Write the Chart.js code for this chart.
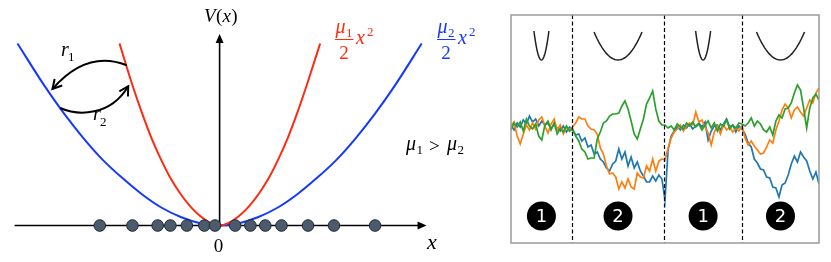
<!DOCTYPE html>
<html>
<head>
<meta charset="utf-8">
<script src="https://cdn.jsdelivr.net/npm/chart.js@4.4.0/dist/chart.umd.min.js"></script>
<style>
  body { margin: 0; background: #fff; }
  #wrap { position: relative; width: 831px; height: 262px; }
  #left { position: absolute; left: 0; top: 0; }
  #right { position: absolute; left: 500px; top: 0; }
</style>
</head>
<body>
<div id="wrap">
  <canvas id="left" width="480" height="262"></canvas>
  <canvas id="right" width="331" height="262"></canvas>
</div>
<script>
// ---- left panel: two potentials V(x) = mu/2 x^2
const redX = [-1.03, -0.9, -0.8, -0.7, -0.6, -0.5, -0.4, -0.3, -0.2, -0.1, 0, 0.1, 0.2, 0.3, 0.4, 0.5, 0.6, 0.7, 0.8, 0.9, 1.035]
const redV = [1.92, 1.49, 1.19, 0.92, 0.69, 0.49, 0.33, 0.2, 0.1, 0.03, 0, 0.03, 0.1, 0.2, 0.33, 0.49, 0.69, 0.92, 1.19, 1.49, 1.92]
const blueX = [-2.08, -1.8, -1.6, -1.4, -1.2, -1.0, -0.8, -0.6, -0.4, -0.2, 0, 0.2, 0.4, 0.6, 0.8, 1.0, 1.2, 1.4, 1.6, 1.8, 2.08]
const blueV = [1.92, 1.47, 1.18, 0.92, 0.69, 0.5, 0.33, 0.19, 0.09, 0.025, 0, 0.025, 0.09, 0.19, 0.33, 0.5, 0.69, 0.92, 1.18, 1.47, 1.92]
const dotX = [-1.233, -0.897, -0.637, -0.507, -0.337, -0.157, -0.047, 0.16, 0.317, 0.47, 0.637, 0.91, 1.177, 1.6]

// ---- right panel: three trajectories, one sample every 4 time steps
const timeStep = 4
const segEdges = [0, 79, 199, 300, 400]
const segLabels = ['1', '2', '1', '2']
const segWide = [false, true, false, true]

const traceBlue = [
  0.3, -0.2, 0.5, 0.1, 0.8, 0.4, 1.2, 0.6, 0.9, 0.2, 0.7, 0.3, 0.5, -0.1, 0.4, 0.0, -0.3, 0.2, -0.4, 0.1,
  -0.2, -0.7, -0.6, -1.3, -1.0, -1.9, -1.7, -2.6, -2.4, -3.1, -3.4, -4.0, -4.3, -3.6, -3.3, -2.1, -3.1, -2.4, -3.8, -2.9, -4.0, -3.4, -4.3, -4.8, -5.4, -5.4, -4.8, -5.3, -4.7, -5.1,
  -7.2, -2.2, -0.8, -0.3, 0.1, -0.2, 0.3, 0.0, 0.4, -0.1, 0.2, 0.5, 0.1, 0.6, -1.2, -0.3, 0.2, 0.3, -0.2, 0.4, 0.9, 0.1, 0.3, -0.4, 0.2, -0.1,
  -0.6, -1.5, -1.9, -3.1, -3.5, -4.1, -4.2, -4.9, -5.0, -5.9, -6.0, -6.9, -5.7, -5.5, -4.7, -3.6, -2.8, -3.4, -2.4, -2.9, -3.3, -4.3, -5.1, -4.4, -5.6
]
const traceOrange = [
  0.2, 0.6, -0.8, -1.6, -0.6, 0.3, -0.2, 0.5, -0.1, 0.8, 1.1, 0.2, -0.5, 0.4, 0.9, -0.2, 0.3, -0.6, 0.1, -0.3,
  0.1, 0.5, 1.1, 0.9, 0.9, 0.2, -0.1, -0.2, -0.6, -2.0, -2.6, -3.8, -4.6, -4.5, -4.9, -6.1, -5.4, -6.0, -5.1, -5.9, -6.1, -4.5, -4.9, -5.0, -3.8, -4.3, -3.1, -4.3, -3.3, -3.1,
  -3.2, -2.0, -1.0, -0.4, -0.1, 0.3, -0.3, 0.2, 0.5, 0.3, 1.6, 0.6, 0.8, 0.1, -0.5, -1.7, -0.4, 0.2, -0.6, 0.3, -0.2, 0.1, -0.4, 0.0, -0.3, 0.2,
  -1.0, -1.7, -1.3, -1.8, -2.2, -2.6, -2.5, -1.9, -1.2, -1.5, -0.2, 0.7, 1.8, 2.4, 2.0, 1.0, 1.8, 2.1, 1.6, 1.2, 2.0, 2.8, 2.5, 3.5, 4.0
]
const traceGreen = [
  -0.2, 0.5, 0.1, 0.6, -0.3, 0.9, 0.2, -0.1, 0.4, -0.8, -1.2, 0.3, 0.7, -0.2, 0.5, -0.6, 0.0, -0.4, 0.2, -0.3,
  -0.1, -0.8, -1.3, -2.1, -2.4, -3.1, -3.0, -3.0, -1.1, -0.4, 0.5, 0.7, 1.2, 1.4, 1.4, 1.5, 2.2, 2.7, 1.9, 0.7, -0.6, -1.1, -0.1, 0.9, 2.4, 3.0, 3.7, 1.9, 0.7, 0.3,
  0.3, 0.0, 0.2, -0.2, 0.4, 0.1, -0.1, 0.5, 0.2, 0.6, 0.1, 0.4, -0.2, 0.3, 0.7, 0.0, 0.5, -0.3, 0.4, 0.2, 0.8, -0.1, 0.3, 0.0, 0.5, 0.4,
  0.2, 0.5, 1.0, 0.2, 0.7, 0.4, -0.2, -0.4, 0.1, -0.7, 0.7, 1.3, 1.0, 1.9, 2.0, 2.5, 3.5, 4.3, 3.8, 2.0, 0.0, 2.0, 3.0, 3.4, 2.8
]

const RED = '#ff2a10'
const BLUE = '#1538ff'
const SERIF = '"Liberation Serif", "DejaVu Serif", serif'

const toXY = (xs, ys) => xs.map((x, i) => ({ x: x, y: ys[i] }))
const toTrace = (ys) => ys.map((y, i) => ({ x: i * timeStep, y: y }))

function arrowHead(ctx, x, y, ang, len, half, filled) {
  ctx.beginPath()
  ctx.moveTo(x - len * Math.cos(ang) + half * Math.sin(ang), y - len * Math.sin(ang) - half * Math.cos(ang))
  ctx.lineTo(x, y)
  ctx.lineTo(x - len * Math.cos(ang) - half * Math.sin(ang), y - len * Math.sin(ang) + half * Math.cos(ang))
  if (filled) { ctx.closePath(); ctx.fill() } else ctx.stroke()
}

// mu with a subscript, returns the x after it
function mu(ctx, x, base, sub) {
  ctx.font = 'italic 20px ' + SERIF
  ctx.fillText('\u03bc', x, base)
  const w = ctx.measureText('\u03bc').width
  ctx.font = '13px ' + SERIF
  ctx.fillText(sub, x + w + 0.5, base + 4)
  return x + w + 0.5 + ctx.measureText(sub).width
}

// draws mu_sub / 2  x^2 with the fraction bar starting at x0
function muFrac(ctx, x0, barY, sub, color) {
  ctx.fillStyle = color
  ctx.strokeStyle = color
  mu(ctx, x0 + 0.5, barY - 6, sub)
  ctx.lineWidth = 1
  ctx.beginPath(); ctx.moveTo(x0, barY + 0.5); ctx.lineTo(x0 + 18.5, barY + 0.5); ctx.stroke()
  ctx.font = '19px ' + SERIF
  ctx.textAlign = 'center'
  ctx.fillText('2', x0 + 9, barY + 20)
  ctx.textAlign = 'left'
  ctx.font = 'italic 20px ' + SERIF
  ctx.fillText('x', x0 + 21, barY + 5)
  ctx.font = '13px ' + SERIF
  ctx.fillText('2', x0 + 32, barY - 3)
}

const leftDecor = {
  id: 'leftDecor',
  beforeDatasetsDraw(chart) {
    const { ctx, scales: { x, y } } = chart
    const y0 = y.getPixelForValue(0)
    const x0 = x.getPixelForValue(0)
    ctx.save()
    ctx.strokeStyle = '#000'
    ctx.fillStyle = '#000'
    ctx.lineWidth = 1.6
    // x axis
    const xa = x.getPixelForValue(-2.11), xb = x.getPixelForValue(2.13)
    ctx.beginPath(); ctx.moveTo(xa, y0); ctx.lineTo(xb - 6, y0); ctx.stroke()
    arrowHead(ctx, xb, y0, 0, 9, 4, true)
    // y axis
    const yt = y.getPixelForValue(2.02)
    ctx.beginPath(); ctx.moveTo(x0, y0); ctx.lineTo(x0, yt + 6); ctx.stroke()
    arrowHead(ctx, x0, yt, -Math.PI / 2, 9, 4, true)
    ctx.restore()
  },
  afterDatasetsDraw(chart) {
    const { ctx, scales: { x, y } } = chart
    ctx.save()
    ctx.fillStyle = '#000'
    ctx.textBaseline = 'alphabetic'
    // V(x)
    let px = 204
    ctx.font = 'italic 19px ' + SERIF; ctx.fillText('V', px, 22); px += ctx.measureText('V').width + 0.5
    ctx.font = '19px ' + SERIF; ctx.fillText('(', px, 22); px += ctx.measureText('(').width
    ctx.font = 'italic 19px ' + SERIF; ctx.fillText('x', px, 22); px += ctx.measureText('x').width + 0.5
    ctx.font = '19px ' + SERIF; ctx.fillText(')', px, 22)
    // 0 and x
    ctx.textAlign = 'center'
    ctx.font = '19px ' + SERIF
    ctx.fillText('0', x.getPixelForValue(0) - 1, 252)
    ctx.font = 'italic 22px ' + SERIF
    ctx.fillText('x', 432, 249)
    ctx.textAlign = 'left'
    // mu1 > mu2
    mu(ctx, 406, 150, '1')
    ctx.font = '19px ' + SERIF; ctx.fillText('>', 429, 152)
    mu(ctx, 447, 150, '2')
    // curve labels
    muFrac(ctx, 335, 39, '1', RED)
    muFrac(ctx, 437, 39, '2', BLUE)
    // hopping arrows r1 / r2 between the two curves
    ctx.strokeStyle = '#000'
    ctx.fillStyle = '#000'
    ctx.lineWidth = 2
    const p = (vx, vy) => [x.getPixelForValue(vx), y.getPixelForValue(vy)]
    let a = p(-0.957, 1.69), b = p(-1.72, 1.44)
    ctx.beginPath(); ctx.moveTo(a[0], a[1])
    ctx.bezierCurveTo(a[0] - 20, a[1] - 8, b[0] + 28, b[1] - 32, b[0], b[1]); ctx.stroke()
    arrowHead(ctx, b[0], b[1], Math.atan2(32, -28), 9, 5, false)
    a = p(-1.64, 1.24); b = p(-0.94, 1.47)
    ctx.beginPath(); ctx.moveTo(a[0], a[1])
    ctx.bezierCurveTo(a[0] + 18, a[1] + 8, b[0] - 18, b[1] + 30, b[0], b[1]); ctx.stroke()
    arrowHead(ctx, b[0], b[1], Math.atan2(-30, 18), 9, 5, false)
    ctx.font = 'italic 20px ' + SERIF; ctx.fillText('r', 61, 56)
    ctx.font = '13px ' + SERIF; ctx.fillText('1', 68, 61)
    ctx.font = 'italic 20px ' + SERIF; ctx.fillText('r', 93, 120)
    ctx.font = '13px ' + SERIF; ctx.fillText('2', 100, 126)
    ctx.restore()
  }
}

new Chart(document.getElementById('left'), {
  type: 'scatter',
  data: {
    datasets: [
      { data: dotX.map(v => ({ x: v, y: 0 })), pointRadius: 5.8, pointBackgroundColor: '#4c5a6e', pointBorderColor: '#1e2733', pointBorderWidth: 1 },
      { data: toXY(redX, redV), showLine: true, borderColor: RED, borderWidth: 2, pointRadius: 0, cubicInterpolationMode: 'monotone' },
      { data: toXY(blueX, blueV), showLine: true, borderColor: BLUE, borderWidth: 2, pointRadius: 0, cubicInterpolationMode: 'monotone' }
    ]
  },
  options: {
    responsive: false,
    animation: false,
    events: [],
    layout: { padding: 0 },
    plugins: { legend: { display: false }, tooltip: { enabled: false } },
    scales: {
      x: { type: 'linear', min: -2.19, max: 2.61, display: false },
      y: { type: 'linear', min: -0.313, max: 2.307, display: false }
    }
  },
  plugins: [leftDecor]
})

const rightDecor = {
  id: 'rightDecor',
  beforeDatasetsDraw(chart) {
    const { ctx, scales: { x } } = chart
    ctx.save()
    // potential icons at the top of each segment
    ctx.strokeStyle = '#222'
    ctx.lineWidth = 1.5
    for (let i = 0; i < segLabels.length; i++) {
      const cx = (x.getPixelForValue(segEdges[i]) + x.getPixelForValue(segEdges[i + 1])) / 2
      const hw = segWide[i] ? 24 : 7.5
      const top = segWide[i] ? 32 : 31
      const bot = 60
      ctx.beginPath()
      for (let k = 0; k <= 30; k++) {
        const u = -1 + k / 15
        const px = cx + u * hw, py = bot - (bot - top) * u * u
        if (k === 0) ctx.moveTo(px, py); else ctx.lineTo(px, py)
      }
      ctx.stroke()
    }
    ctx.restore()
  },
  afterDatasetsDraw(chart) {
    const { ctx, chartArea: ca, scales: { x } } = chart
    ctx.save()
    // dashed switches
    ctx.strokeStyle = '#000'
    ctx.lineWidth = 1.2
    ctx.setLineDash([4, 2.5])
    for (let i = 1; i < segEdges.length - 1; i++) {
      const px = Math.round(x.getPixelForValue(segEdges[i])) + 0.5
      ctx.beginPath(); ctx.moveTo(px, ca.top); ctx.lineTo(px, ca.bottom); ctx.stroke()
    }
    ctx.setLineDash([])
    // box
    ctx.strokeStyle = '#9a9a9a'
    ctx.lineWidth = 1.5
    ctx.strokeRect(ca.left, ca.top, ca.right - ca.left, ca.bottom - ca.top)
    // numbered badges
    for (let i = 0; i < segLabels.length; i++) {
      const cx = (x.getPixelForValue(segEdges[i]) + x.getPixelForValue(segEdges[i + 1])) / 2
      const cy = 216
      ctx.fillStyle = '#000'
      ctx.beginPath(); ctx.arc(cx, cy, 14.5, 0, Math.PI * 2); ctx.fill()
      ctx.fillStyle = '#fff'
      ctx.font = '18px "DejaVu Sans", sans-serif'
      ctx.textAlign = 'center'
      ctx.textBaseline = 'middle'
      ctx.fillText(segLabels[i], cx, cy + 1)
    }
    ctx.restore()
  }
}

new Chart(document.getElementById('right'), {
  type: 'line',
  data: {
    datasets: [
      { data: toTrace(traceBlue), borderColor: '#1f77b4', borderWidth: 1.7, pointRadius: 0, order: 2 },
      { data: toTrace(traceOrange), borderColor: '#ff7f0e', borderWidth: 1.7, pointRadius: 0, order: 1 },
      { data: toTrace(traceGreen), borderColor: '#2ca02c', borderWidth: 1.7, pointRadius: 0, order: 0 }
    ]
  },
  options: {
    responsive: false,
    animation: false,
    events: [],
    layout: { padding: { left: 11, right: 12, top: 15, bottom: 19 } },
    plugins: { legend: { display: false }, tooltip: { enabled: false } },
    scales: {
      x: { type: 'linear', min: 0, max: 400, display: false },
      y: { type: 'linear', min: -11.5, max: 11.3, display: false }
    }
  },
  plugins: [rightDecor]
})
</script>
</body>
</html>
